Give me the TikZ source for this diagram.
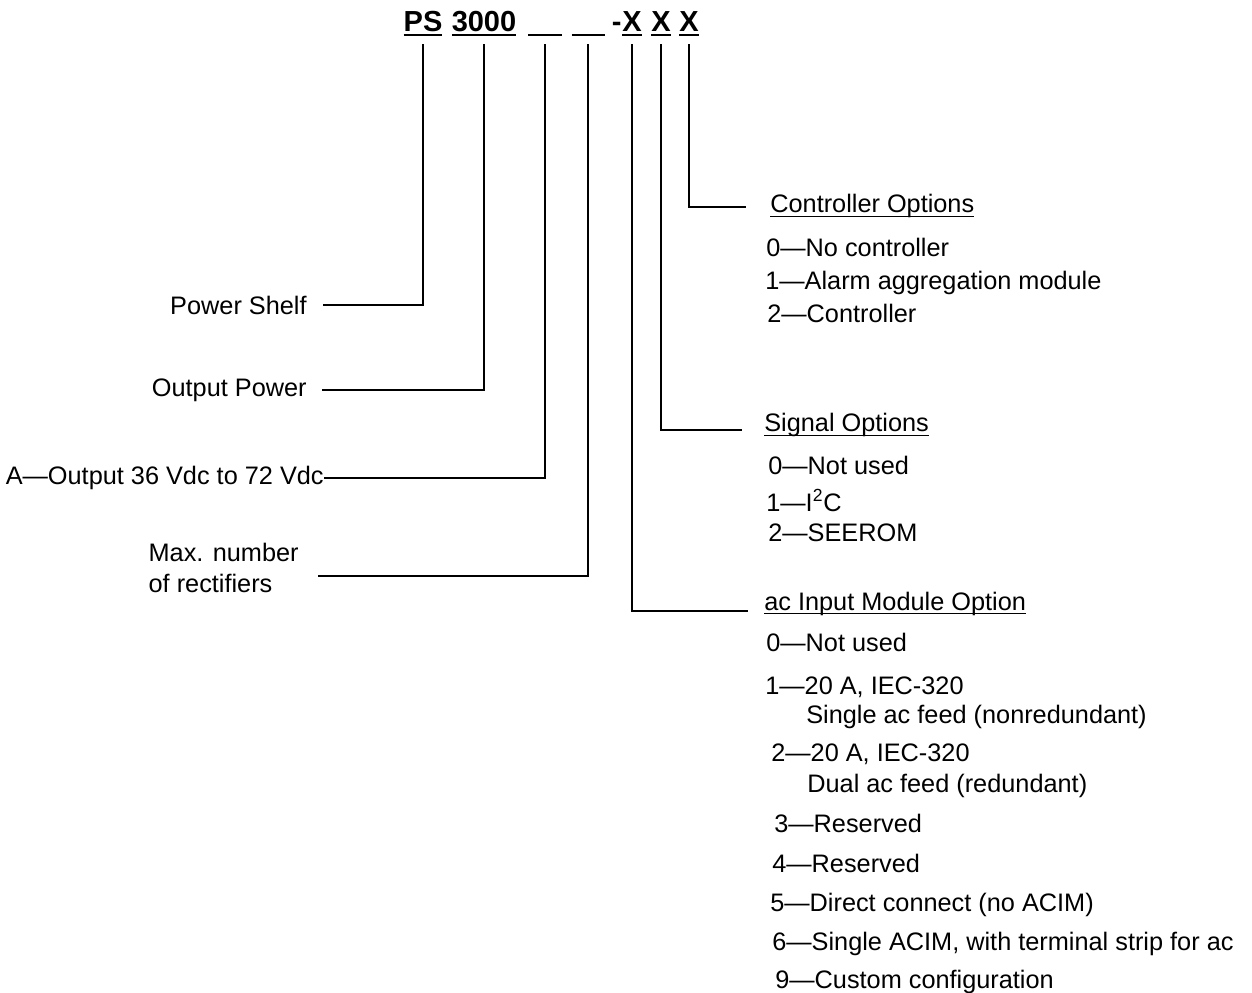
\documentclass[tikz,border=0pt]{standalone}
\usepackage{fontspec}
\setmainfont{Liberation Sans}
\newcommand\hul[1]{\setbox0\hbox{#1}\rlap{\rule[-2.2pt]{\wd0}{1.1pt}}\box0}
\newcommand\tul[1]{\setbox0\hbox{#1}\rlap{\rule[-2.4pt]{\wd0}{0.8pt}}\box0}
\begin{document}
\begin{tikzpicture}[x=0.02cm,y=-0.02cm,font=\fontsize{14.4}{17.6}\selectfont,
    hdr/.style={font=\fontsize{16.5}{20}\selectfont\bfseries,inner sep=0pt,anchor=base},
    lab/.style={anchor=east,inner ysep=0pt},
    opt/.style={anchor=base west,inner sep=0pt},
    lead/.style={line width=1.3pt,shorten <=0.16cm}]
        \useasboundingbox (0,0) rectangle (1252,993);
        % 型番
        \node[hdr] (ps) at (423,32) {\hul{PS}};
        \node[hdr] (watt) at (484,32) {\hul{3000}};
        \node[hdr] (volt) at (545,32) {\hul{\hspace{0.68cm}}};
        \node[hdr] (rect) at (588,32) {\hul{\hspace{0.66cm}}};
        \node[hdr] (acim) at (632,32) {\hul{X}};
        \node[hdr,anchor=base east] (hyph) at (acim.base west) {-};
        \node[hdr] (sig) at (661,32) {\hul{X}};
        \node[hdr] (ctrl) at (689,32) {\hul{X}};
        % 左側
        \node[lab,inner xsep=0.32cm] (shelf) at (323,305) {Power Shelf};
        \node[lab,inner xsep=0.3cm] (outpw) at (322,390) {Output Power};
        \node[lab,inner xsep=0pt] (outv) at (324,478) {A---Output 36 Vdc to 72 Vdc};
        \node[lab,inner xsep=0.38cm,align=left] (maxnum) at (318,568) {Max. number\\ of rectifiers};
        \coordinate (maxend) at ([yshift=-0.16cm]maxnum.east);
        \draw[lead] (ps) |- (shelf);
        \draw[lead] (watt) |- (outpw);
        \draw[lead] (volt) |- (outv);
        \draw[lead] (rect) |- (maxend);
        % 右側
        \coordinate (ctrlend) at (746,207);
        \coordinate (sigend) at (742,430);
        \coordinate (acimend) at (748,611);
        \draw[lead] (ctrl) |- (ctrlend);
        \draw[lead] (sig) |- (sigend);
        \draw[lead] (acim) |- (acimend);
        \node[opt] (ctrlhd) at (770,213) {\tul{Controller Options}};
        \node[opt] (c0) at (766,257) {0---No controller};
        \node[opt] (c1) at (765,290) {1---Alarm aggregation module};
        \node[opt] (c2) at (767,323) {2---Controller};
        \node[opt] (sighd) at (764,432) {\tul{Signal Options}};
        \node[opt] (s0) at (768,475) {0---Not used};
        \node[opt] (s1) at (766,511) {1---I\textsuperscript{2}C};
        \node[opt] (s2) at (768,541) {2---SEEROM};
        \node[opt] (acimhd) at (764,610) {\tul{ac Input Module Option}};
        \node[opt] (a0) at (766,651) {0---Not used};
        \node[opt] (a1) at (765,694) {1---20 A, IEC-320};
        \node[opt] (a1b) at (806,723) {Single ac feed (nonredundant)};
        \node[opt] (a2) at (771,761) {2---20 A, IEC-320};
        \node[opt] (a2b) at (807,792) {Dual ac feed (redundant)};
        \node[opt] (a3) at (774,832) {3---Reserved};
        \node[opt] (a4) at (772,872) {4---Reserved};
        \node[opt] (a5) at (770,911) {5---Direct connect (no ACIM)};
        \node[opt] (a6) at (772,950) {6---Single ACIM, with terminal strip for ac};
        \node[opt] (a9) at (775,988) {9---Custom configuration};
    \end{tikzpicture}
\end{document}
